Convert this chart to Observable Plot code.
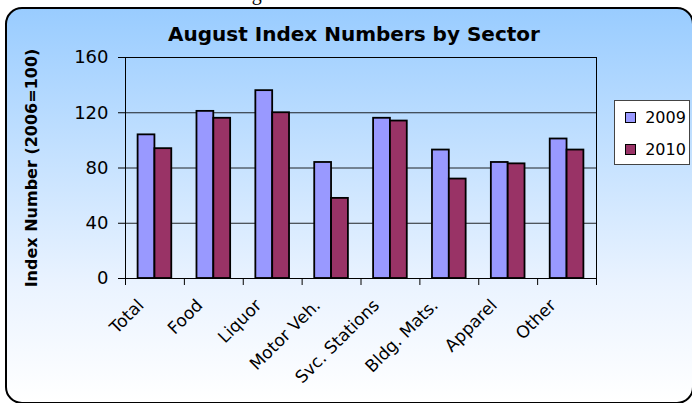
<!DOCTYPE html>
<html>
<head>
<meta charset="utf-8">
<script src="https://cdn.jsdelivr.net/npm/d3@7"></script>
<script src="https://cdn.jsdelivr.net/npm/@observablehq/plot@0.6"></script>
<style>
  html, body { margin: 0; padding: 0; background: #fff; }
  #wrap { position: relative; width: 692px; height: 403px; overflow: hidden; font-family: "DejaVu Sans", sans-serif; }
  #caption { position: absolute; left: 235px; top: -17.5px; font-family: "Liberation Serif", serif; font-size: 20px; line-height: 20px; white-space: nowrap; color: #000; }
  #frame { position: absolute; left: 5px; top: 7px; width: 689px; height: 397px; box-sizing: border-box;
           border: 2px solid #000; border-radius: 17px;
           background: linear-gradient(to bottom, #99CCFF 0%, #C2E0FF 35%, #EAF3FF 70%, #FFFFFF 100%); }
  #title { position: absolute; left: 354px; top: 22px; transform: translateX(-50%); font-weight: bold; font-size: 20px; white-space: nowrap; color: #000; }
  #chart { position: absolute; left: 0; top: 0; }
  #legend { position: absolute; left: 614px; top: 100px; width: 76px; height: 65px; box-sizing: border-box; background: #fff; border: 1px solid #444; padding-left: 7px; }
  .lg-swatches { display: flex !important; flex-direction: column; font-family: "DejaVu Sans", sans-serif; font-size: 16px; color: #000; margin: 0 !important; min-height: 0 !important; }
  .lg-swatch { display: flex !important; align-items: center; height: 32px; margin: 0 !important; }
  .lg-swatch > svg { border: 1px solid #000; margin-right: 9px !important; }
  g[aria-label="y-axis label"] text { font-weight: bold; font-size: 16px; }
</style>
</head>
<body>
<div id="wrap">
  <div id="caption">Figure</div>
  <div id="frame"></div>
  <div id="title">August Index Numbers by Sector</div>
  <div id="chart"></div>
  <div id="legend"></div>
</div>
<script>
const categories = ["Total", "Food", "Liquor", "Motor Veh.", "Svc. Stations", "Bldg. Mats.", "Apparel", "Other"];
const years = ["2009", "2010"];
const values2009 = [104, 121, 136, 84, 116, 93, 84, 101];
const values2010 = [94, 116, 120, 58, 114, 72, 83, 93];
const yTicks = [0, 40, 80, 120, 160];
const yLabel = "Index Number (2006=100)";
const colors = ["#9999FF", "#993366"];

const rows2009 = categories.map((c, i) => ({cat: c, i, year: years[0], value: values2009[i]}));
const rows2010 = categories.map((c, i) => ({cat: c, i, year: years[1], value: values2010[i]}));

const chart = Plot.plot({
  width: 692,
  height: 403,
  marginLeft: 125,
  marginRight: 96,
  marginTop: 57,
  marginBottom: 125,
  style: {background: "transparent", fontFamily: "DejaVu Sans", fontSize: "17px", color: "#000", overflow: "visible"},
  x: {type: "linear", domain: [0, categories.length]},
  y: {domain: [0, 160]},
  color: {domain: years, range: colors},
  marks: [
    Plot.gridY(yTicks, {stroke: "#000", strokeOpacity: 0.85}),
    Plot.rectY(rows2009, {x1: "i", x2: d => d.i + 1, y: "value", fill: "year", stroke: "#000", strokeWidth: 1.8, insetLeft: 12.6, insetRight: 29.45}),
    Plot.rectY(rows2010, {x1: "i", x2: d => d.i + 1, y: "value", fill: "year", stroke: "#000", strokeWidth: 1.8, insetLeft: 29.45, insetRight: 12.6}),
    Plot.frame({stroke: "#000"}),
    Plot.axisY({ticks: yTicks, tickSize: 7, tickPadding: 10, fontSize: 18, label: yLabel, labelAnchor: "center", labelArrow: "none", labelOffset: 100}),
    Plot.axisX({ticks: d3.range(categories.length + 1), tickSize: 7, tickFormat: () => "", label: null}),
    Plot.axisX({ticks: categories.map((c, i) => i + 0.5), tickSize: 0, tickPadding: 8, tickRotate: -45, fontSize: 17,
                dx: -14, dy: 16, tickFormat: t => categories[Math.floor(t)], label: null})
  ]
});
document.getElementById("chart").appendChild(chart);

const legend = Plot.legend({color: {domain: years, range: colors}, swatchSize: 9, className: "lg"});
document.getElementById("legend").appendChild(legend);
</script>
</body>
</html>
